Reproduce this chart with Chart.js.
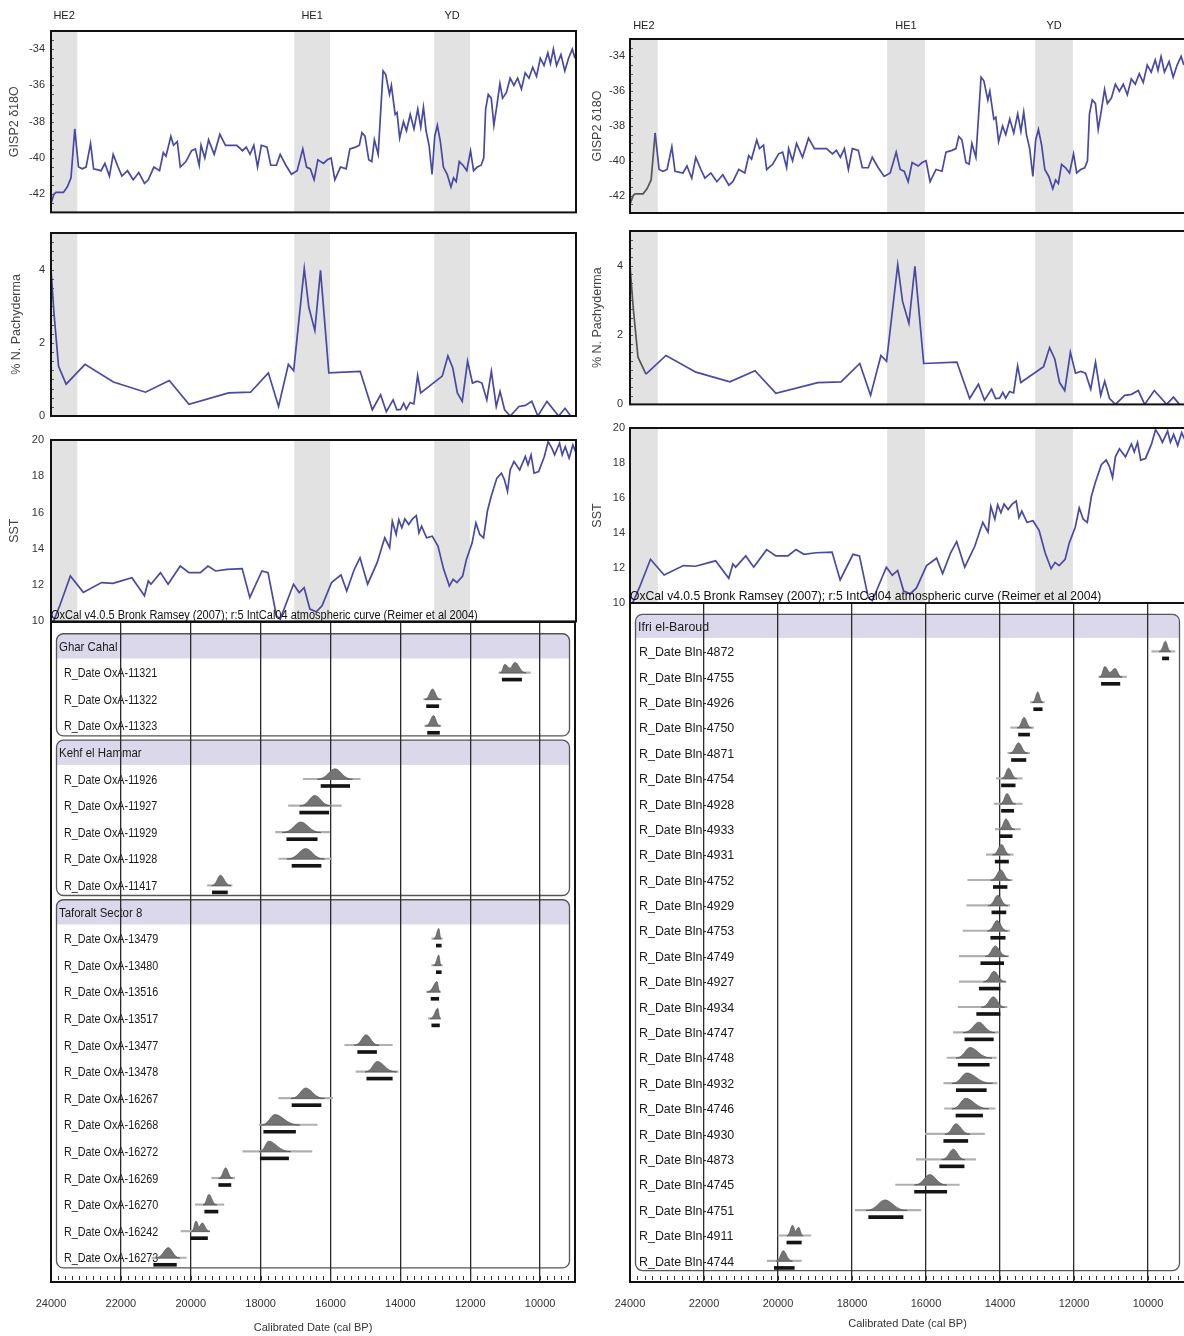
<!DOCTYPE html>
<html><head><meta charset="utf-8">
<script src="https://cdn.jsdelivr.net/npm/chart.js@4.4.1/dist/chart.umd.min.js"></script>
<style>
html,body{margin:0;padding:0;background:#fff;overflow:hidden;width:1184px;height:1336px;position:relative;}
canvas{position:absolute;}
</style></head><body>
<script>
// ---------------- DATA ----------------
const eventNames = ['HE2', 'HE1', 'YD'];
const eventStart = [24000, 17050, 13050];
const eventEnd = [23250, 16030, 12030];

const dateTicks = [24000, 22000, 20000, 18000, 16000, 14000, 12000, 10000];
const gispTicks = [-42, -40, -38, -36, -34];
const pachyTicks = [0, 2, 4];
const sstTicks = [10, 12, 14, 16, 18, 20];

// [cal BP, GISP2 d18O]
const gispSeries = [[24000,-42.5],[23914,-42.0],[23860,-41.9],[23645,-41.9],[23537,-41.6],[23429,-41.1],[23321,-38.4],[23214,-40.5],[23106,-40.6],[22998,-40.5],[22869,-39.2],[22783,-40.6],[22568,-40.7],[22460,-40.3],[22331,-41.0],[22223,-39.8],[22083,-40.5],[21975,-41.0],[21814,-40.7],[21652,-41.2],[21491,-40.8],[21329,-41.4],[21221,-41.2],[21060,-40.5],[20898,-40.7],[20791,-39.7],[20715,-39.9],[20575,-38.8],[20500,-39.3],[20392,-39.1],[20306,-40.5],[20144,-40.2],[19983,-39.6],[19875,-39.5],[19767,-40.4],[19713,-39.3],[19606,-40.0],[19498,-39.0],[19337,-39.8],[19175,-38.7],[19014,-39.3],[18690,-39.3],[18529,-39.6],[18421,-39.4],[18313,-39.8],[18206,-39.3],[18098,-40.5],[17990,-39.3],[17829,-39.4],[17721,-40.4],[17560,-40.4],[17452,-39.8],[17290,-40.4],[17129,-40.9],[16967,-40.7],[16806,-39.5],[16698,-40.5],[16590,-40.6],[16483,-41.2],[16375,-40.1],[16213,-40.3],[16106,-40.1],[15998,-40.0],[15890,-41.2],[15729,-40.5],[15567,-40.6],[15460,-39.5],[15298,-39.4],[15190,-39.3],[15115,-38.6],[15029,-38.8],[14921,-40.1],[14835,-40.2],[14760,-39.0],[14652,-39.8],[14512,-35.2],[14436,-35.4],[14329,-36.5],[14275,-36.0],[14167,-37.6],[14113,-37.5],[14038,-38.9],[13930,-38.0],[13844,-38.5],[13736,-37.6],[13629,-38.4],[13521,-37.3],[13435,-38.3],[13359,-37.2],[13284,-38.5],[13198,-39.3],[13112,-40.9],[13036,-38.8],[12961,-38.2],[12875,-39.1],[12789,-40.5],[12681,-40.9],[12573,-41.6],[12498,-41.1],[12422,-41.3],[12336,-40.2],[12228,-40.4],[12120,-40.7],[12013,-39.6],[11927,-40.7],[11819,-40.5],[11711,-40.4],[11636,-40.0],[11582,-37.3],[11507,-36.5],[11421,-36.7],[11346,-38.2],[11260,-37.1],[11174,-35.9],[11098,-36.7],[10990,-36.4],[10882,-35.6],[10774,-36.0],[10667,-35.6],[10559,-36.2],[10451,-35.3],[10344,-35.6],[10236,-35.0],[10128,-35.5],[10020,-34.5],[9913,-34.9],[9805,-34.2],[9730,-34.8],[9646,-34.0],[9556,-34.9],[9430,-34.3],[9320,-35.2],[9213,-34.5],[9105,-34.0],[9030,-34.5]];

// [cal BP, % N. pachyderma]
const pachySeries = [[24000,4.0],[23914,2.8],[23784,1.36],[23568,0.87],[23028,1.41],[22218,0.93],[21300,0.65],[20620,0.97],[20058,0.32],[18924,0.63],[18298,0.65],[17790,1.18],[17498,0.26],[17218,1.41],[17066,1.24],[16764,4.03],[16634,2.97],[16462,2.34],[16300,3.98],[16062,1.18],[15166,1.22],[14820,0.17],[14582,0.58],[14420,0.12],[14226,0.44],[14118,0.17],[14010,0.18],[13924,0.35],[13848,0.18],[13740,0.37],[13632,0.33],[13524,1.11],[13438,0.63],[12822,1.09],[12660,1.64],[12520,1.31],[12390,0.63],[12250,0.40],[12098,1.50],[11958,0.90],[11818,0.95],[11688,0.90],[11548,0.44],[11418,1.22],[11278,0.26],[11170,0.67],[11040,0.17],[10878,0.0],[10630,0.26],[10446,0.29],[10262,0.40],[10090,0.0],[9830,0.40],[9496,0.0],[9312,0.21],[9150,0.0]];

// [cal BP, SST]
const sstSeries = [[23950,9.9],[23750,10.86],[23446,12.5],[23077,11.6],[22556,12.14],[22230,12.1],[21687,12.41],[21330,11.41],[21220,12.23],[21144,12.05],[20872,12.69],[20655,12.05],[20307,13.05],[20058,12.69],[19732,12.69],[19515,13.05],[19298,12.78],[18972,12.87],[18538,12.91],[18320,11.32],[17973,12.78],[17799,12.69],[17560,10.31],[17451,10.13],[17071,12.05],[16909,11.59],[16767,11.86],[16604,10.68],[16420,10.53],[16257,10.86],[15985,12.14],[15714,12.56],[15551,11.68],[15334,12.87],[15171,13.51],[14954,12.05],[14682,13.24],[14465,14.61],[14324,14.06],[14248,15.52],[14139,14.79],[14063,15.61],[13976,15.16],[13889,15.65],[13780,15.34],[13672,15.65],[13563,15.83],[13487,14.88],[13411,15.25],[13270,14.61],[13107,14.70],[12944,14.15],[12781,12.87],[12619,11.96],[12510,12.32],[12402,12.14],[12239,12.50],[12130,13.42],[11967,14.33],[11859,15.43],[11750,14.79],[11641,14.61],[11533,16.07],[11424,16.89],[11261,17.9],[11131,18.17],[11044,17.81],[10957,17.17],[10881,18.35],[10772,18.81],[10609,18.35],[10447,19.09],[10371,18.63],[10284,19.18],[10197,18.17],[10067,18.26],[9904,19.09],[9796,19.91],[9687,19.54],[9611,19.18],[9470,19.82],[9394,19.18],[9307,19.63],[9198,19.0],[9090,19.73],[9000,19.3]];

// OxCal, left figure
const leftSites = ['Ghar Cahal', 'Kehf el Hammar', 'Taforalt Sector 8'];
const leftSiteCounts = [3, 5, 13];
const leftLabels = ['R_Date OxA-11321','R_Date OxA-11322','R_Date OxA-11323','R_Date OxA-11926','R_Date OxA-11927','R_Date OxA-11929','R_Date OxA-11928','R_Date OxA-11417','R_Date OxA-13479','R_Date OxA-13480','R_Date OxA-13516','R_Date OxA-13517','R_Date OxA-13477','R_Date OxA-13478','R_Date OxA-16267','R_Date OxA-16268','R_Date OxA-16272','R_Date OxA-16269','R_Date OxA-16270','R_Date OxA-16242','R_Date OxA-16273'];
// [older edge, peak, younger edge, second peak]
const leftHumps = [[11150,10710,10400,11013],[13300,13079,12850,null],[13280,13050,12860,null],[16380,15870,15370,null],[16880,16450,15970,null],[17380,16850,16270,null],[17250,16710,16170,null],[19400,19150,18850,null],[13050,12900,12830,null],[13050,12900,12830,null],[13230,12950,12860,null],[13150,12930,12850,null],[15320,14980,14610,null],[15010,14660,14110,null],[17130,16710,16170,null],[17990,17590,16880,null],[18040,17770,17130,null],[19200,19000,18800,null],[19650,19480,19250,null],[19980,19850,19450,19670],[21010,20640,20310,null]];
const leftRanges = [[11184,10277],[13330,12820],[13300,12840],[16780,15150],[17200,15690],[17570,16020],[17480,15970],[19520,18820],[13100,12800],[13100,12800],[13250,12850],[13200,12850],[15590,14230],[15270,14060],[17480,15940],[18040,16380],[18510,16530],[19400,18740],[19870,19050],[20280,19470],[21110,20130]];
const leftBars = [[11083,10529],[13250,12900],[13220,12880],[16270,15450],[16880,16050],[17250,16380],[17100,16270],[19380,18950],[12970,12830],[12970,12830],[13120,12900],[13100,12880],[15220,14680],[14960,14230],[17100,16270],[17910,17000],[18010,17200],[19200,18850],[19600,19220],[20000,19520],[21060,20410]];

// OxCal, right figure
const rightSites = ['Ifri el-Baroud'];
const rightSiteCounts = [25];
const rightLabels = ['R_Date Bln-4872','R_Date Bln-4755','R_Date Bln-4926','R_Date Bln-4750','R_Date Bln-4871','R_Date Bln-4754','R_Date Bln-4928','R_Date Bln-4933','R_Date Bln-4931','R_Date Bln-4752','R_Date Bln-4929','R_Date Bln-4753','R_Date Bln-4749','R_Date Bln-4927','R_Date Bln-4934','R_Date Bln-4747','R_Date Bln-4748','R_Date Bln-4932','R_Date Bln-4746','R_Date Bln-4930','R_Date Bln-4873','R_Date Bln-4745','R_Date Bln-4751','R_Date Bln-4911','R_Date Bln-4744'];
const rightHumps = [[9700,9530,9380,null],[11310,11170,10700,10890],[13130,12980,12840,null],[13540,13350,13150,null],[13740,13500,13250,null],[13960,13770,13540,null],[14000,13810,13580,null],[14030,13840,13600,null],[14200,13960,13730,null],[14250,13980,13720,null],[14320,14060,13790,null],[14340,14080,13800,null],[14400,14130,13800,null],[14450,14160,13850,null],[14500,14180,13870,null],[15000,14570,14130,null],[15190,14810,14220,null],[15300,14900,14200,null],[15300,14930,14300,null],[15490,15190,14810,null],[15580,15260,14950,null],[16310,15900,15440,null],[17620,17110,16510,null],[19760,19610,19320,19440],[20050,19860,19610,null]];
const rightRanges = [[9900,9270],[11330,10580],[13180,12800],[13710,13090],[13790,13200],[14100,13400],[14160,13400],[14130,13450],[14370,13640],[14870,13670],[14900,13740],[15000,13740],[15100,13770],[15100,13840],[15130,13810],[15260,14030],[15430,14100],[15520,14080],[15500,14130],[16020,14420],[16260,14660],[16820,15100],[17910,16140],[20000,19110],[20290,19370]];
const rightBars = [[9610,9440],[11260,10760],[13090,12860],[13500,13200],[13690,13300],[13960,13590],[13960,13630],[14000,13670],[14130,13770],[14180,13810],[14220,13840],[14250,13860],[14520,13900],[14560,14000],[14630,14000],[14950,14180],[15130,14290],[15180,14370],[15190,14470],[15520,14870],[15630,14970],[16310,15440],[17550,16620],[19760,19370],[20100,19560]];

const oxcalTitle = 'OxCal v4.0.5 Bronk Ramsey (2007); r:5 IntCal04 atmospheric curve (Reimer et al 2004)';

// ---------------- STYLE ----------------
const BLUE = '#4848a6';
const GRAYLINE = '#555555';
const SANS = "'Liberation Sans', Arial, sans-serif";
Chart.defaults.font.family = SANS;
Chart.defaults.color = '#333';
Chart.defaults.animation = false;

function makeCanvas(left, top, w, h) {
  const c = document.createElement('canvas');
  c.width = w; c.height = h;
  c.style.left = left + 'px'; c.style.top = top + 'px';
  c.style.width = w + 'px'; c.style.height = h + 'px';
  document.body.appendChild(c);
  return c;
}

// text drawn horizontally condensed (the original uses a narrow face)
function narrowText(ctx, text, x, y, size, ratio, baseline) {
  ctx.save();
  ctx.font = size + 'px ' + SANS;
  ctx.textAlign = 'left';
  ctx.textBaseline = baseline || 'middle';
  ctx.translate(x, y);
  ctx.scale(ratio, 1);
  ctx.fillText(text, 0, 0);
  ctx.restore();
}

const decoPlugin = {
  id: 'deco',
  beforeDatasetsDraw(chart) {
    const o = chart.options.plugins.deco;
    if (!o || !o.bands) return;
    const {ctx, chartArea: a, scales: {x}} = chart;
    ctx.save();
    ctx.fillStyle = '#e2e2e2';
    eventStart.forEach((s, i) => {
      const x0 = x.getPixelForValue(s), x1 = x.getPixelForValue(eventEnd[i]);
      ctx.fillRect(Math.min(x0, x1), a.top, Math.abs(x1 - x0), a.bottom - a.top);
    });
    ctx.restore();
  },
  afterDraw(chart) {
    const o = chart.options.plugins.deco;
    if (!o) return;
    const {ctx, chartArea: a, scales} = chart;
    ctx.save();
    if (o.minorStep) {
      const y = scales.y;
      ctx.strokeStyle = '#555'; ctx.lineWidth = 1;
      for (let v = y.min; v <= y.max + 1e-9; v += o.minorStep) {
        const py = Math.round(y.getPixelForValue(v)) + 0.5;
        ctx.beginPath(); ctx.moveTo(a.left, py); ctx.lineTo(a.left + 3, py); ctx.stroke();
      }
    }
    if (o.eventLabels) {
      ctx.fillStyle = '#222';
      ctx.font = '11px ' + SANS;
      ctx.textAlign = 'center'; ctx.textBaseline = 'middle';
      eventNames.forEach((n, i) => {
        const xc = (scales.x.getPixelForValue(eventStart[i]) + scales.x.getPixelForValue(eventEnd[i])) / 2;
        ctx.fillText(n, xc, a.top - o.eventLabelGap);
      });
    }
    ctx.lineWidth = 2; ctx.strokeStyle = '#111';
    ctx.strokeRect(a.left, a.top, a.right - a.left, a.bottom - a.top);
    ctx.restore();
  }
};

function lineChart(cv, series, o) {
  const ds = {
    data: series.map(p => ({x: p[0], y: p[1]})),
    borderColor: BLUE, borderWidth: 1.7, pointRadius: 0, tension: 0, fill: false
  };
  if (o.grayAbove) {
    ds.segment = {borderColor: c => c.p0.parsed.x > o.grayAbove ? GRAYLINE : BLUE};
  }
  return new Chart(cv, {
    type: 'line',
    data: {datasets: [ds]},
    plugins: [decoPlugin],
    options: {
      responsive: false, animation: false, events: [],
      layout: {padding: o.padding},
      plugins: {legend: {display: false}, tooltip: {enabled: false},
        deco: {bands: true, eventLabels: o.eventLabels, eventLabelGap: o.eventLabelGap, minorStep: o.minorStep}},
      scales: {
        x: {type: 'linear', min: 9000, max: 24000, reverse: true, display: false},
        y: {
          type: 'linear', min: o.min, max: o.max,
          afterBuildTicks: s => { s.ticks = o.ticks.map(v => ({value: v})); },
          afterFit: s => { s.width = o.axisW; },
          ticks: {padding: o.tickPad, font: {size: 11}, color: '#333'},
          grid: {display: false, drawTicks: false},
          border: {display: false},
          title: {display: true, text: o.title, font: {size: 12.5}, color: '#444', padding: {top: o.titlePad, bottom: 0}}
        }
      }
    }
  });
}

function humpPath(ctx, xa, xb, peaks, base) {
  ctx.beginPath();
  ctx.moveTo(xa, base);
  if (peaks.length === 1) {
    const [xp, h] = peaks[0];
    const l = xp - xa, r = xb - xp;
    ctx.bezierCurveTo(xa + l * 0.55, base, xp - l * 0.3, base - h, xp, base - h);
    ctx.bezierCurveTo(xp + r * 0.3, base - h, xb - r * 0.55, base, xb, base);
  } else {
    const [x1, h1] = peaks[0], [x2, h2] = peaks[1];
    const vx = (x1 + x2) / 2, vh = Math.min(h1, h2) * 0.55;
    ctx.bezierCurveTo(xa + (x1 - xa) * 0.55, base, x1 - (x1 - xa) * 0.3, base - h1, x1, base - h1);
    ctx.bezierCurveTo(x1 + (vx - x1) * 0.5, base - h1, vx - (vx - x1) * 0.4, base - vh, vx, base - vh);
    ctx.bezierCurveTo(vx + (x2 - vx) * 0.4, base - vh, x2 - (x2 - vx) * 0.5, base - h2, x2, base - h2);
    ctx.bezierCurveTo(x2 + (xb - x2) * 0.3, base - h2, xb - (xb - x2) * 0.55, base, xb, base);
  }
  ctx.closePath();
}

function roundRect(ctx, x, y, w, h, r) {
  ctx.beginPath();
  ctx.moveTo(x + r, y); ctx.lineTo(x + w - r, y); ctx.arcTo(x + w, y, x + w, y + r, r);
  ctx.lineTo(x + w, y + h - r); ctx.arcTo(x + w, y + h, x + w - r, y + h, r);
  ctx.lineTo(x + r, y + h); ctx.arcTo(x, y + h, x, y + h - r, r);
  ctx.lineTo(x, y + r); ctx.arcTo(x, y, x + r, y, r);
  ctx.closePath();
}

const oxPlugin = {
  id: 'oxcal',
  beforeDraw(chart) {
    const o = chart.options.plugins.oxcal;
    const {ctx, chartArea: a, scales: {y}} = chart;
    const step = Math.abs(y.getPixelForValue(1) - y.getPixelForValue(0));
    ctx.save();
    o.groups.forEach(g => {
      const top = y.getPixelForValue(g.header) - step * 0.46;
      const bottom = y.getPixelForValue(g.last) + step * 0.38;
      const left = a.left + 5.5, right = a.right - 5.5;
      roundRect(ctx, left, top, right - left, bottom - top, 7);
      ctx.save(); ctx.clip();
      ctx.fillStyle = '#dcd8ec';
      ctx.fillRect(left, top, right - left, y.getPixelForValue(g.header) + step * 0.47 - top);
      ctx.restore();
      ctx.lineWidth = 1.3; ctx.strokeStyle = '#555';
      roundRect(ctx, left, top, right - left, bottom - top, 7);
      ctx.stroke();
      ctx.fillStyle = '#1a1a1a';
      narrowText(ctx, g.name, left + 2.5, y.getPixelForValue(g.header) + 1, o.headSize, o.headRatio);
    });
    // sample labels, placed on the row scale
    ctx.fillStyle = '#1a1a1a';
    o.rows.forEach((r, i) => {
      narrowText(ctx, o.labels[i], a.left + o.labelPad, y.getPixelForValue(r) + 1, o.labelSize, o.labelRatio);
    });
    ctx.restore();
  },
  afterDatasetsDraw(chart) {
    const o = chart.options.plugins.oxcal;
    const {ctx, scales: {x, y}} = chart;
    ctx.save();
    ctx.fillStyle = '#747474'; ctx.strokeStyle = '#555'; ctx.lineWidth = 0.7;
    o.humps.forEach((hp, i) => {
      const base = y.getPixelForValue(o.rows[i]) + 0.3;
      const xa = x.getPixelForValue(hp[0]), xb = x.getPixelForValue(hp[2]);
      const peaks = [[x.getPixelForValue(hp[1]), 10.5]];
      if (hp[3] !== null) peaks.push([x.getPixelForValue(hp[3]), 8.5]);
      peaks.sort((p, q) => p[0] - q[0]);
      humpPath(ctx, xa, xb, peaks, base);
      ctx.fill(); ctx.stroke();
    });
    ctx.restore();
  },
  afterDraw(chart) {
    const o = chart.options.plugins.oxcal;
    const {ctx, chartArea: a, scales: {x}} = chart;
    ctx.save();
    ctx.strokeStyle = '#333'; ctx.lineWidth = 1;
    x.ticks.forEach(t => {
      const px = Math.round(x.getPixelForValue(t.value)) + 0.5;
      ctx.beginPath(); ctx.moveTo(px, a.bottom - 6); ctx.lineTo(px, a.bottom - 2); ctx.stroke();
    });
    ctx.lineWidth = 2; ctx.strokeStyle = '#111';
    ctx.strokeRect(a.left, a.top, a.right - a.left, a.bottom - a.top);
    ctx.fillStyle = '#111';
    narrowText(ctx, oxcalTitle, a.left, a.top - 3, o.titleSize, o.titleRatio, 'alphabetic');
    ctx.restore();
  }
};

function oxChart(cv, d, o) {
  const rowLabels = [], sampleRows = [], groups = [];
  let s = 0;
  d.sites.forEach((name, g) => {
    const header = rowLabels.length;
    rowLabels.push(name);
    for (let k = 0; k < d.counts[g]; k++) { sampleRows.push(rowLabels.length); rowLabels.push(d.labels[s++]); }
    groups.push({name, header, last: rowLabels.length - 1});
  });
  const yb = {type: 'linear', display: false, reverse: true, offset: false,
    min: o.yMin - o.barShift, max: o.yMax - o.barShift};
  return new Chart(cv, {
    type: 'bar',
    data: {
      datasets: [
        {data: d.ranges.map((r, i) => ({x: r, y: sampleRows[i]})), yAxisID: 'y',
          backgroundColor: '#b0b0b0', grouped: false, barThickness: 1.5, borderWidth: 0, borderSkipped: false},
        {data: d.bars.map((r, i) => ({x: r, y: sampleRows[i]})), yAxisID: 'yb',
          backgroundColor: '#141414', grouped: false, barThickness: 3, borderWidth: 0, borderSkipped: false}
      ]
    },
    plugins: [oxPlugin],
    options: {
      indexAxis: 'y', responsive: false, animation: false, events: [],
      layout: {padding: o.padding},
      plugins: {legend: {display: false}, tooltip: {enabled: false},
        oxcal: {groups, rows: sampleRows, labels: d.labels, humps: d.humps,
          labelPad: o.labelPad, labelSize: o.labelSize, labelRatio: o.labelRatio,
          headSize: o.headSize, headRatio: o.headRatio, titleSize: o.titleSize, titleRatio: o.titleRatio}},
      scales: {
        x: {
          type: 'linear', position: 'bottom', min: 9000, max: 24000, reverse: true,
          afterFit: s => { s.height = 54; s.paddingLeft = 0; s.paddingRight = 0; },
          ticks: {stepSize: 200, autoSkip: false, maxRotation: 0, padding: 15, font: {size: 11}, color: '#333',
            callback: v => dateTicks.includes(v) ? String(v) : ''},
          grid: {drawTicks: false, lineWidth: 1.3,
            color: c => (c.tick && dateTicks.includes(c.tick.value)) ? '#2a2a2a' : 'rgba(0,0,0,0)'},
          border: {display: false},
          title: {display: true, text: 'Calibrated Date (cal BP)', font: {size: 11}, color: '#333',
            padding: {top: 0, bottom: o.xTitlePad}}
        },
        y: {
          type: 'linear', position: 'left', reverse: true, offset: false, min: o.yMin, max: o.yMax,
          afterBuildTicks: sc => { sc.ticks = rowLabels.map((_, i) => ({value: i})); },
          afterFit: sc => { sc.width = o.axisW; sc.paddingTop = 0; sc.paddingBottom = 0; },
          ticks: {display: false},
          grid: {display: false, drawTicks: false, offset: false},
          border: {display: false}
        },
        yb
      }
    }
  });
}

// ---------------- LEFT FIGURE ----------------
lineChart(makeCanvas(0, 0, 580, 225), gispSeries, {
  padding: {top: 31, bottom: 12, right: 4, left: 0}, min: -43, max: -33, ticks: gispTicks,
  axisW: 51, tickPad: 6, title: 'GISP2 δ18O', titlePad: 7, eventLabels: true, eventLabelGap: 15, minorStep: 0.5});
lineChart(makeCanvas(0, 215, 580, 215), pachySeries, {
  padding: {top: 18, bottom: 14, right: 4, left: 0}, min: 0, max: 5, ticks: pachyTicks,
  axisW: 51, tickPad: 6, title: '% N. Pachyderma', titlePad: 9, minorStep: 0.25});
lineChart(makeCanvas(0, 425, 580, 210), sstSeries, {
  padding: {top: 15, bottom: 13, right: 4, left: 0}, min: 10, max: 20, ticks: sstTicks,
  axisW: 51, tickPad: 7, title: 'SST', titlePad: 7});
oxChart(makeCanvas(0, 600, 580, 736),
  {sites: leftSites, counts: leftSiteCounts, labels: leftLabels, humps: leftHumps, ranges: leftRanges, bars: leftBars},
  {padding: {top: 22, bottom: 0, right: 5, left: 0}, yMin: -0.902, yMax: 23.91, barShift: 0.263,
   axisW: 51, labelPad: 13, xTitlePad: 1,
   labelSize: 13, labelRatio: 0.83, headSize: 13, headRatio: 0.88, titleSize: 12.5, titleRatio: 0.88});

// ---------------- RIGHT FIGURE ----------------
lineChart(makeCanvas(590, 0, 596, 225), gispSeries, {
  padding: {top: 39, bottom: 12, right: 1, left: 0}, min: -43, max: -33, ticks: gispTicks,
  axisW: 40, tickPad: 5, title: 'GISP2 δ18O', titlePad: 0, eventLabels: true, eventLabelGap: 13, minorStep: 0.5,
  grayAbove: 23330});
lineChart(makeCanvas(590, 213, 596, 205), pachySeries, {
  padding: {top: 18, bottom: 13, right: 1, left: 0}, min: 0, max: 5, ticks: pachyTicks,
  axisW: 40, tickPad: 7, title: '% N. Pachyderma', titlePad: 0, minorStep: 0.25, grayAbove: 23600});
lineChart(makeCanvas(590, 413, 596, 205), sstSeries, {
  padding: {top: 15, bottom: 15, right: 1, left: 0}, min: 10, max: 20, ticks: sstTicks,
  axisW: 40, tickPad: 5, title: 'SST', titlePad: 0});
oxChart(makeCanvas(590, 580, 596, 756),
  {sites: rightSites, counts: rightSiteCounts, labels: rightLabels, humps: rightHumps, ranges: rightRanges, bars: rightBars},
  {padding: {top: 23, bottom: 0, right: 1, left: 0}, yMin: -0.906, yMax: 25.83, barShift: 0.276,
   axisW: 40, labelPad: 9, xTitlePad: 5,
   labelSize: 13.5, labelRatio: 0.92, headSize: 13.5, headRatio: 0.92, titleSize: 13.5, titleRatio: 0.9});
</script>
</body></html>
